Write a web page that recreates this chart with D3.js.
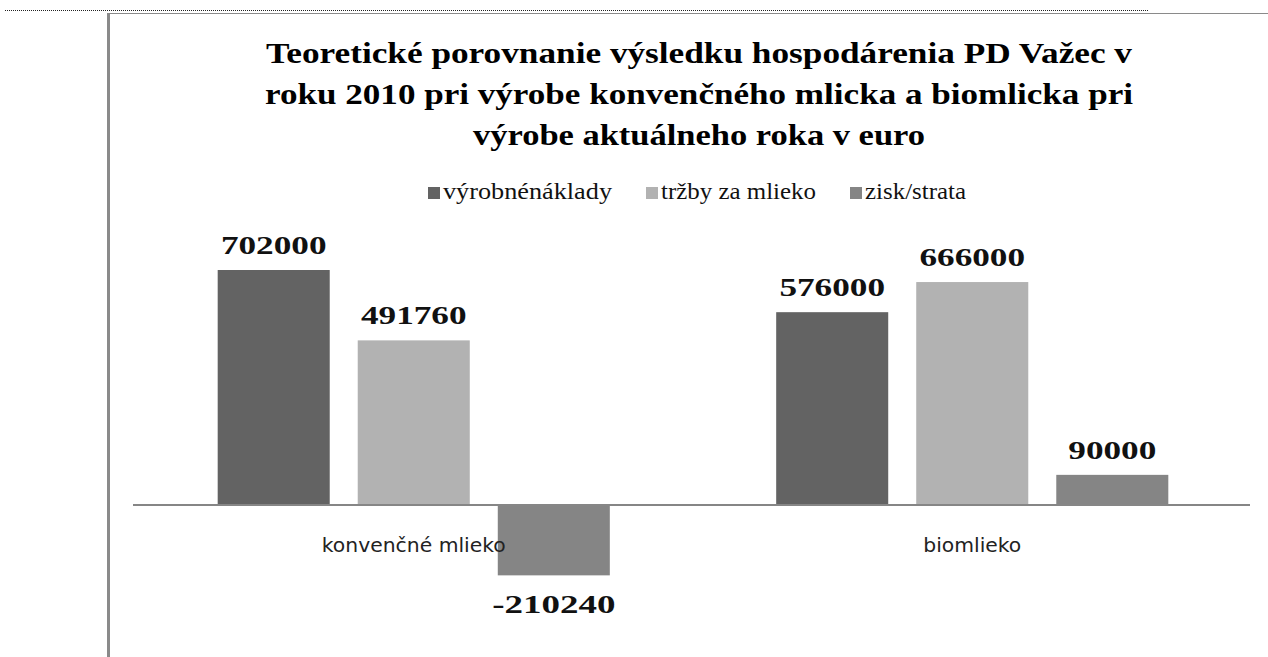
<!DOCTYPE html>
<html>
<head>
<meta charset="utf-8">
<script src="https://cdn.jsdelivr.net/npm/d3@7"></script>
<style>
  body { margin: 0; background: #fff; }
  svg { display: block; }
</style>
</head>
<body>
<div id="chart"></div>
<script>
// data
var categories = ["konvenčné mlieko", "biomlieko"];
var seriesNames = ["výrobnénáklady", "tržby za mlieko", "zisk/strata"];
var vyrobneNaklady = [702000, 576000];
var trzbyZaMlieko = [491760, 666000];
var ziskStrata = [-210240, 90000];
var titleLines = [
	"Teoretické porovnanie výsledku hospodárenia PD Važec v",
	"roku 2010 pri výrobe konvenčného mlicka a biomlicka pri",
	"výrobe aktuálneho roka v euro"
];

var W = 1268, H = 657;
var colors = ["#636363", "#b2b2b2", "#858585"];
var serif = "Liberation Serif, Tinos, Times, serif";
var sans = "DejaVu Sans, sans-serif";

var values = [vyrobneNaklady, trzbyZaMlieko, ziskStrata];
var rows = [];
categories.forEach(function(c, ci) {
	seriesNames.forEach(function(s, si) {
		rows.push({ cat: c, series: s, si: si, value: values[si][ci] });
	});
});

var svg = d3.select("#chart").append("svg")
	.attr("width", W)
	.attr("height", H);

// page decoration: dotted rule and frame
svg.append("line")
	.attr("x1", 5).attr("x2", 1148)
	.attr("y1", 10.5).attr("y2", 10.5)
	.attr("stroke", "#222").attr("stroke-dasharray", "1,1");
svg.append("line")
	.attr("x1", 107).attr("x2", W)
	.attr("y1", 13.5).attr("y2", 13.5)
	.attr("stroke", "#8a8a8a");
svg.append("line")
	.attr("x1", 108.5).attr("x2", 108.5)
	.attr("y1", 13).attr("y2", H)
	.attr("stroke", "#8a8a8a").attr("stroke-width", 3);

var x0 = d3.scaleBand().domain(categories).range([134.5, 1251.5]);
var x1 = d3.scaleBand().domain(seriesNames)
	.range([0, x0.bandwidth()])
	.paddingInner(0.2).paddingOuter(0.594);
var y = d3.scaleLinear().domain([-300000, 800000]).range([605.4, 237.2]);

// title
var titleWidths = [866, 868, 452];
svg.append("g").selectAll("text")
	.data(titleLines)
	.enter().append("text")
	.attr("x", 699)
	.attr("y", function(d, i) { return 63 + i * 41; })
	.attr("text-anchor", "middle")
	.attr("textLength", function(d, i) { return titleWidths[i]; })
	.attr("lengthAdjust", "spacingAndGlyphs")
	.style("font-family", serif)
	.style("font-weight", "bold")
	.style("font-size", "30px")
	.text(function(d) { return d; });

// legend
var legendX = [428, 646, 850];
var legendW = [169, 155, 101];
var legend = svg.append("g").selectAll("g")
	.data(seriesNames)
	.enter().append("g")
	.attr("transform", function(d, i) { return "translate(" + legendX[i] + ",187)"; });
legend.append("rect")
	.attr("width", 12).attr("height", 12)
	.attr("fill", function(d, i) { return colors[i]; });
legend.append("text")
	.attr("x", 15).attr("y", 12)
	.attr("textLength", function(d, i) { return legendW[i]; })
	.attr("lengthAdjust", "spacingAndGlyphs")
	.style("font-family", serif)
	.style("font-size", "24px")
	.style("fill", "#111")
	.text(function(d) { return d; });

// bars
svg.append("g").selectAll("rect")
	.data(rows)
	.enter().append("rect")
	.attr("x", function(d) { return x0(d.cat) + x1(d.series); })
	.attr("width", x1.bandwidth())
	.attr("y", function(d) { return y(Math.max(0, d.value)); })
	.attr("height", function(d) { return Math.abs(y(d.value) - y(0)); })
	.attr("fill", function(d) { return colors[d.si]; });

// zero axis line
svg.append("line")
	.attr("x1", 133).attr("x2", 1250)
	.attr("y1", y(0)).attr("y2", y(0))
	.attr("stroke", "#868686").attr("stroke-width", 2);

// category labels
var catW = [184, 98];
svg.append("g").selectAll("text")
	.data(categories)
	.enter().append("text")
	.attr("x", function(d) { return x0(d) + x0.bandwidth() / 2; })
	.attr("y", 552)
	.attr("text-anchor", "middle")
	.attr("textLength", function(d, i) { return catW[i]; })
	.attr("lengthAdjust", "spacingAndGlyphs")
	.style("font-family", sans)
	.style("font-size", "20px")
	.style("fill", "#222")
	.text(function(d) { return d; });

// value labels
svg.append("g").selectAll("text")
	.data(rows)
	.enter().append("text")
	.attr("x", function(d) { return x0(d.cat) + x1(d.series) + x1.bandwidth() / 2; })
	.attr("y", function(d) { return d.value >= 0 ? y(d.value) - 16 : y(d.value) + 38; })
	.attr("text-anchor", "middle")
	.attr("textLength", function(d) { return String(d.value).length * 17.6; })
	.attr("lengthAdjust", "spacingAndGlyphs")
	.style("font-family", serif)
	.style("font-weight", "bold")
	.style("font-size", "25px")
	.style("fill", "#111")
	.text(function(d) { return d.value; });
</script>
</body>
</html>
